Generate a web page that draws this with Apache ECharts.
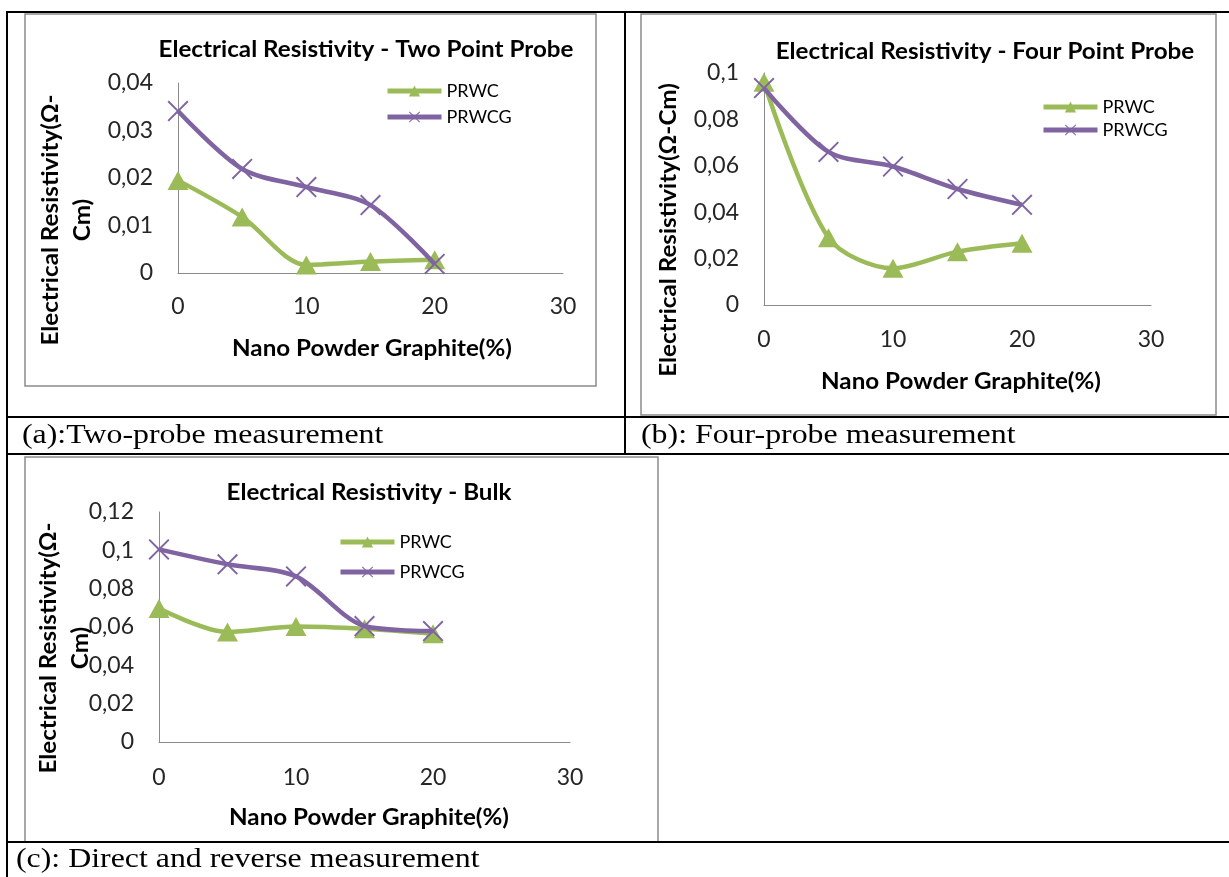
<!DOCTYPE html>
<html>
<head>
<meta charset="utf-8">
<script src="https://cdn.jsdelivr.net/npm/echarts@6/dist/echarts.min.js"></script>
<style>
html,body{margin:0;padding:0;background:#fff;}
#chart{width:1229px;height:877px;}
</style>
</head>
<body>
<div id="chart"></div>
<script>
// ---- data ----
const graphitePercent = [0, 5, 10, 15, 20];
const xTicks = { min: 0, max: 30, interval: 10 };

const twoProbePRWC  = [0.0195, 0.0118, 0.0017, 0.0024, 0.0028];
const twoProbePRWCG = [0.0341, 0.0219, 0.0181, 0.0143, 0.0019];

const fourProbePRWC  = [0.096, 0.029, 0.0158, 0.023, 0.0266];
const fourProbePRWCG = [0.0935, 0.066, 0.0597, 0.050, 0.0432];

const bulkPRWC  = [0.0696, 0.0574, 0.0603, 0.0591, 0.0565];
const bulkPRWCG = [0.1005, 0.0927, 0.0864, 0.0605, 0.0579];

const seriesNames = ['PRWC', 'PRWCG'];
const chartTitles = [
  'Electrical Resistivity - Two Point Probe',
  'Electrical Resistivity - Four Point Probe',
  'Electrical Resistivity - Bulk'
];
const xAxisTitle = 'Nano Powder Graphite(%)';
const yAxisTitles = [
  'Electrical Resistivity(\u03A9-\nCm)',
  'Electrical Resistivity(\u03A9-Cm)',
  'Electrical Resistivity(\u03A9-\nCm)'
];
const captions = [
  '(a):Two-probe measurement',
  '(b): Four-probe measurement',
  '(c): Direct and reverse measurement'
];
const yScales = [
  { max: 0.04, interval: 0.01 },
  { max: 0.1, interval: 0.02 },
  { max: 0.12, interval: 0.02 }
];

// ---- styling ----
const GREEN = '#9BBB59';
const PURPLE = '#8064A2';
const FONT = 'Lato';
const X_PATH = 'path://M0,1.3 L1.3,0 L10,8.7 L18.7,0 L20,1.3 L11.3,10 L20,18.7 L18.7,20 L10,11.3 L1.3,20 L0,18.7 L8.7,10 Z';

const grids = [
  { left: 178, top: 83, width: 385, height: 190 },
  { left: 764, top: 73, width: 387, height: 232 },
  { left: 159, top: 512, width: 411, height: 230 }
];
const xLabelMargins = [22, 23, 24];

function fmt(v) {
  if (v === 0) return '0';
  return String(+v.toFixed(4)).replace('.', ',');
}

const xAxes = grids.map((g, i) => ({
  type: 'value', gridIndex: i, min: xTicks.min, max: xTicks.max, interval: xTicks.interval,
  axisLine: { show: true, lineStyle: { color: '#8a8a8a', width: 1 } },
  axisTick: { show: false }, splitLine: { show: false },
  axisLabel: { margin: xLabelMargins[i], fontFamily: FONT, fontSize: 23, color: '#262626' }
}));
const yAxes = grids.map((g, i) => ({
  type: 'value', gridIndex: i, min: 0, max: yScales[i].max, interval: yScales[i].interval,
  axisLine: { show: true, lineStyle: { color: '#8a8a8a', width: 1 } },
  axisTick: { show: false }, splitLine: { show: false },
  axisLabel: { margin: 25, fontFamily: FONT, fontSize: 23, color: '#262626', formatter: fmt }
}));

function mk(name, values, idx) {
  const isC = name === 'PRWC';
  return {
    type: 'line', name: name, xAxisIndex: idx, yAxisIndex: idx,
    data: graphitePercent.map((x, k) => [x, values[k]]),
    smooth: 0.3,
    symbol: isC ? 'triangle' : X_PATH,
    symbolSize: isC ? [21, 19] : 21,
    color: isC ? GREEN : PURPLE,
    itemStyle: { color: isC ? GREEN : PURPLE },
    lineStyle: { width: 4.5, color: isC ? GREEN : PURPLE },
    z: isC ? 2 : 3
  };
}

const series = [
  mk('PRWC', twoProbePRWC, 0), mk('PRWCG', twoProbePRWCG, 0),
  mk('PRWC', fourProbePRWC, 1), mk('PRWCG', fourProbePRWCG, 1),
  mk('PRWC', bulkPRWC, 2), mk('PRWCG', bulkPRWCG, 2)
];

const legendPos = [
  { left: 385, top: 82, itemGap: 8 },
  { left: 1041, top: 98, itemGap: 5 },
  { left: 338, top: 533, itemGap: 12 }
];
const legends = legendPos.map(p => ({
  data: seriesNames, orient: 'vertical', left: p.left, top: p.top, itemGap: p.itemGap,
  itemWidth: 54, itemHeight: 14, selectedMode: false, padding: 0,
  lineStyle: { width: 5 },
  textStyle: { fontFamily: FONT, fontSize: 18, color: '#000' }
}));

// ---- graphic (table, frames, texts) ----
const black = { stroke: '#000', lineWidth: 2 };
function line(x1, y1, x2, y2, style) {
  return { type: 'line', shape: { x1, y1, x2, y2 }, style: style, z: 1, silent: true };
}
function rect(x, y, w, h) {
  return { type: 'rect', shape: { x, y, width: w, height: h }, style: { stroke: '#8c8c8c', lineWidth: 1.5, fill: 'none' }, z: 0, silent: true };
}
function text(t, x, y, opts) {
  return Object.assign({
    type: 'text', x: x, y: y, z: 5, silent: true,
    style: Object.assign({ text: t, fill: '#000', align: 'center', verticalAlign: 'middle' }, opts.style)
  }, opts.el || {});
}
const boldStyle = { fontFamily: FONT, fontWeight: 'bold', fontSize: 22, lineHeight: 32 };
const capStyle = { fontFamily: 'Liberation Serif', fontSize: 27, align: 'left' };
const capScale = 1.18;

const graphic = [
  rect(25, 14, 571, 372),
  rect(641, 14, 575, 401),
  rect(25, 457, 633, 385),
  line(7, 12, 1229, 12, black),
  line(7, 11, 7, 877, black),
  line(625, 12, 625, 454, black),
  line(7, 417, 1229, 417, black),
  line(7, 454, 1229, 454, black),
  line(7, 842, 1229, 842, black),
  text(chartTitles[0], 366, 50, { style: boldStyle, el: { scaleX: 1.1 } }),
  text(chartTitles[1], 985, 52, { style: boldStyle, el: { scaleX: 1.1 } }),
  text(chartTitles[2], 369, 493, { style: boldStyle, el: { scaleX: 1.1 } }),
  text(xAxisTitle, 372, 349, { style: boldStyle, el: { scaleX: 1.1 } }),
  text(xAxisTitle, 961, 382, { style: boldStyle, el: { scaleX: 1.1 } }),
  text(xAxisTitle, 369, 818, { style: boldStyle, el: { scaleX: 1.1 } }),
  text(yAxisTitles[0], 67, 220, { style: boldStyle, el: { scaleX: 1.1, rotation: Math.PI / 2 } }),
  text(yAxisTitles[1], 669, 230, { style: boldStyle, el: { scaleX: 1.1, rotation: Math.PI / 2 } }),
  text(yAxisTitles[2], 65, 648, { style: boldStyle, el: { scaleX: 1.1, rotation: Math.PI / 2 } }),
  text(captions[0], 22, 436, { style: capStyle, el: { scaleX: capScale } }),
  text(captions[1], 641, 436, { style: capStyle, el: { scaleX: capScale } }),
  text(captions[2], 16, 860, { style: capStyle, el: { scaleX: capScale } })
];

const chart = echarts.init(document.getElementById('chart'), null, { renderer: 'canvas' });
chart.setOption({
  animation: false,
  backgroundColor: '#fff',
  grid: grids.map(g => Object.assign({ containLabel: false }, g)),
  xAxis: xAxes,
  yAxis: yAxes,
  legend: legends,
  series: series,
  graphic: graphic
});
</script>
</body>
</html>
